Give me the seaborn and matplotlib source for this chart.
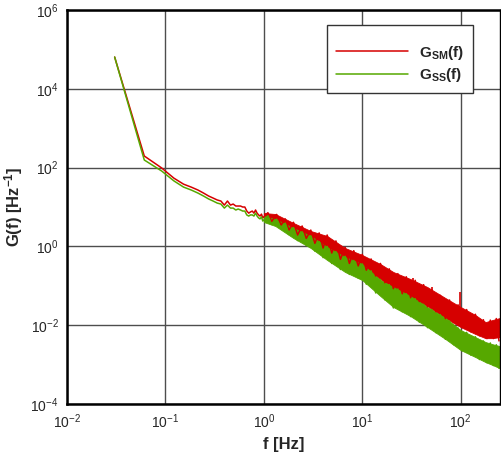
"""
Power spectral density G(f) for the SM and SS signals (log-log).
"""

import matplotlib
matplotlib.use("Agg")
import matplotlib.pyplot as plt
import matplotlib.ticker as mticker
import seaborn as sns

# low-frequency part: single spectral lines (f in Hz)
freq_low = [0.0305, 0.061, 0.0916, 0.122, 0.153, 0.183, 0.214, 0.244, 0.275, 0.305,
            0.336, 0.366, 0.397, 0.427, 0.458, 0.488, 0.519, 0.549, 0.58, 0.61,
            0.641, 0.671, 0.702, 0.732, 0.763, 0.793, 0.824, 0.854, 0.885, 0.915,
            0.946, 0.976]
gsm_low = [6.4e4, 197, 98, 54, 38, 32, 27, 22.6, 19, 16.9,
           15.1, 14.2, 11.2, 14.2, 11.2, 11.9, 10.6, 10.6, 10.6, 10.0,
           10.0, 7.9, 7.0, 7.5, 7.9, 7.0, 8.4, 7.0, 6.3, 5.9,
           6.6, 5.3]
gss_low = [6.4e4, 156, 82, 46, 32, 27, 22.6, 19, 16, 14.2,
           12.6, 11.9, 9.4, 11.2, 9.4, 9.4, 8.4, 8.9, 8.4, 7.9,
           7.9, 6.3, 5.9, 6.3, 6.3, 5.9, 7.0, 5.9, 5.3, 5.0,
           5.6, 4.4]

# higher frequencies: the noisy spectrum fills a band (upper / lower edge)
freq_band = [1.0, 1.31, 2.0, 3.0, 4.4, 6.7, 10, 15.3, 20.7, 30.8,
             45.9, 70, 100, 141, 179, 211, 248]
gsm_hi = [7.05, 6.64, 3.93, 2.46, 1.84, 0.91, 0.605, 0.357, 0.224, 0.149,
          0.093, 0.049, 0.029, 0.0182, 0.0120, 0.0136, 0.0152]
gsm_lo = [4.96, 4.16, 2.19, 1.37, 0.81, 0.40, 0.30, 0.149, 0.088, 0.052,
          0.0307, 0.0152, 0.0090, 0.0060, 0.0047, 0.0047, 0.0050]
gss_hi = [5.91, 4.96, 2.93, 1.84, 0.966, 0.538, 0.357, 0.140, 0.093, 0.055,
          0.029, 0.0152, 0.00755, 0.0050, 0.00375, 0.0033, 0.00297]
gss_lo = [4.16, 3.30, 1.63, 0.91, 0.452, 0.224, 0.140, 0.055, 0.029, 0.0171,
          0.0090, 0.00447, 0.00235, 0.00156, 0.00116, 0.00098, 0.00082]

# jagged trace through the band (alternating highs and lows)
freq_zig = [1.1, 1.2, 1.35, 1.5, 1.65, 1.8, 2.0, 2.2, 2.45, 2.7,
            3.0, 3.3, 3.65, 4.0, 4.4, 4.9, 5.4, 6.0, 6.7, 7.4,
            8.2, 9.1, 10, 11, 12.3, 13.7, 15.3, 17, 18.8, 20.7,
            23, 25.5, 28, 31, 34.5, 38, 42, 46, 51, 56,
            62, 70, 77, 85, 94, 104, 115, 127, 141, 155,
            170, 185, 200, 215, 230, 245]
gsm_zig = [7.2, 4.3, 6.5, 3.5, 5.0, 2.6, 4.1, 1.95, 3.3, 1.6,
           2.6, 1.2, 2.2, 0.91, 1.95, 0.68, 1.38, 0.47, 0.95, 0.37,
           0.78, 0.32, 0.63, 0.25, 0.48, 0.178, 0.37, 0.12, 0.27, 0.085,
           0.204, 0.063, 0.17, 0.050, 0.138, 0.040, 0.107, 0.0295, 0.079, 0.022,
           0.0575, 0.0148, 0.0437, 0.0117, 0.033, 0.0087, 0.025, 0.0068, 0.019, 0.0054,
           0.0138, 0.0046, 0.0135, 0.0046, 0.0148, 0.0040]
gss_zig = [6.0, 3.6, 4.9, 2.75, 3.9, 2.0, 3.0, 1.41, 2.35, 1.07,
           1.86, 0.76, 1.32, 0.52, 1.0, 0.37, 0.74, 0.26, 0.56, 0.195,
           0.44, 0.158, 0.36, 0.11, 0.24, 0.066, 0.145, 0.044, 0.107, 0.0275,
           0.083, 0.022, 0.063, 0.0166, 0.047, 0.012, 0.034, 0.0087, 0.025, 0.0065,
           0.0186, 0.0044, 0.0129, 0.0032, 0.0085, 0.00224, 0.0066, 0.00174, 0.0051, 0.00135,
           0.0040, 0.00112, 0.00355, 0.00095, 0.0032, 0.00081]

# a few isolated peaks sticking out of the SM band
spike_freq = [33, 51, 99]
spike_base = [0.10, 0.06, 0.02]
spike_top = [0.158, 0.095, 0.070]

RED = '#d60000'
GREEN = '#56a800'

sns.set_style('white')
plt.rcParams['font.family'] = ['Liberation Sans', 'DejaVu Sans']
plt.rcParams['mathtext.fontset'] = 'custom'
plt.rcParams['mathtext.rm'] = 'Liberation Sans'
plt.rcParams['mathtext.bf'] = 'Liberation Sans:bold'
plt.rcParams['mathtext.it'] = 'Liberation Sans:italic'
plt.rcParams['axes.unicode_minus'] = False

fig = plt.figure(figsize=(5.01, 4.54), dpi=100)
ax = fig.add_axes([0.1337, 0.110, 0.864, 0.868])

ax.fill_between(freq_band, gsm_lo, gsm_hi, color=RED, lw=0.6, edgecolor=RED)
sns.lineplot(x=freq_low + freq_zig, y=gsm_low + gsm_zig, sort=False,
             color=RED, lw=1.1, ax=ax, label=r'$\mathbf{G_{SM}(f)}$')
ax.vlines(spike_freq, spike_base, spike_top, color=RED, lw=1.2)

ax.fill_between(freq_band, gss_lo, gss_hi, color=GREEN, lw=0.6, edgecolor=GREEN)
sns.lineplot(x=freq_low + freq_zig, y=gss_low + gss_zig, sort=False,
             color=GREEN, lw=1.1, ax=ax, label=r'$\mathbf{G_{SS}(f)}$')

ax.set_xscale('log')
ax.set_yscale('log')
ax.set_xlim(0.01, 250)
ax.set_ylim(1e-4, 1e6)

ax.xaxis.set_major_locator(mticker.LogLocator(base=10, numticks=10))
ax.xaxis.set_minor_locator(mticker.LogLocator(base=10, subs=range(2, 10), numticks=20))
ax.xaxis.set_minor_formatter(mticker.NullFormatter())
ax.yaxis.set_major_locator(mticker.FixedLocator([1e-4, 1e-2, 1, 1e2, 1e4, 1e6]))
ax.yaxis.set_minor_locator(mticker.NullLocator())
ax.yaxis.set_major_formatter(mticker.LogFormatterSciNotation())

ax.grid(True, which='major', color='0.3', lw=1.0)
ax.tick_params(which='major', direction='in', length=8, width=1.5, labelsize=10,
               top=False, right=False, pad=6)
ax.tick_params(which='minor', direction='in', length=4, width=0.8, top=False)

for side in ['left', 'top', 'bottom']:
    ax.spines[side].set_linewidth(1.8)
    ax.spines[side].set_color('black')
ax.spines['right'].set_linewidth(1.0)
ax.spines['right'].set_color('black')

ax.set_xlabel('f [Hz]', fontsize=12, fontweight='bold', labelpad=4)
ax.set_ylabel(r'G(f) [Hz$^{\mathbf{-1}}$]', fontsize=12, fontweight='bold', labelpad=4)

leg = ax.legend(loc='upper right', bbox_to_anchor=(0.938, 0.962), borderaxespad=0,
                fontsize=11, handlelength=4.7, handletextpad=0.7, borderpad=0.6,
                labelspacing=0.3, fancybox=False, framealpha=1, edgecolor='0.2',
                title=' ', title_fontsize=4)
leg.get_frame().set_linewidth(1.0)

fig.savefig('out.png', dpi=100)
